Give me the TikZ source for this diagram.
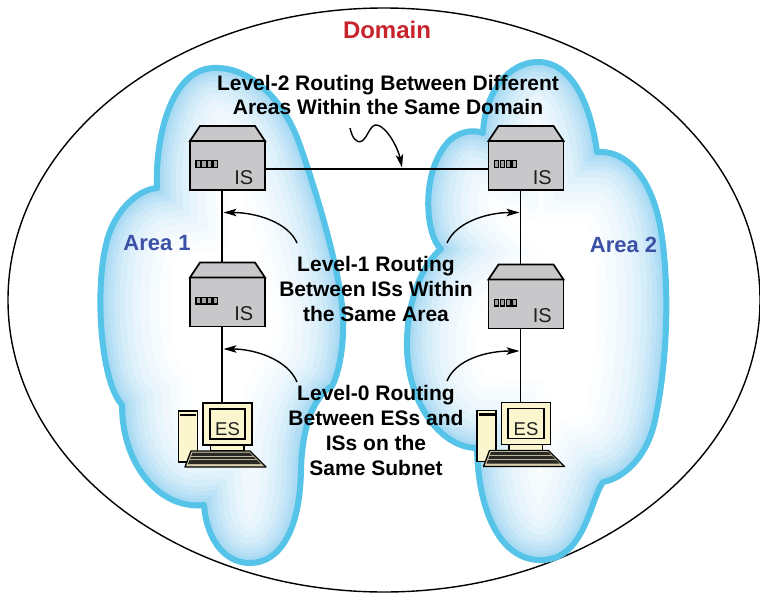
\documentclass[tikz,border=0pt]{standalone}
\usepackage{fontspec}
\setmainfont{Liberation Sans}
\usetikzlibrary{arrows.meta}

\definecolor{isgray}{RGB}{200,200,202}
\definecolor{cream}{RGB}{251,246,206}
\definecolor{kbbeige}{RGB}{214,206,168}
\definecolor{kbdark}{RGB}{40,40,36}
\definecolor{cloudband}{RGB}{86,196,232}
\definecolor{glowc}{RGB}{145,207,239}
\definecolor{domainred}{RGB}{200,35,45}
\definecolor{areablue}{RGB}{60,80,165}

% outlines of the two areas
\newcommand\leftcloud{(157,188) .. controls (155,140) and (170,70) .. (213,68)
  .. controls (250,66) and (283,100) .. (298,140)
  .. controls (309,170) and (342,270) .. (343,320)
  .. controls (344,350) and (338,375) .. (332,386)
  .. controls (312,398) and (302,430) .. (301,470)
  .. controls (300,530) and (280,563) .. (250,563)
  .. controls (222,563) and (206,535) .. (204,505)
  .. controls (160,510) and (122,465) .. (122,405)
  .. controls (100,380) and (95,290) .. (106,245)
  .. controls (112,215) and (135,190) .. (157,188) -- cycle}
\newcommand\rightcloud{(483,133) .. controls (485,90) and (510,62) .. (538,62)
  .. controls (570,62) and (590,100) .. (597,152)
  .. controls (625,150) and (650,175) .. (660,225)
  .. controls (670,280) and (668,360) .. (655,420)
  .. controls (648,455) and (625,478) .. (603,482)
  .. controls (590,500) and (585,558) .. (543,560)
  .. controls (500,562) and (478,510) .. (477,448)
  .. controls (440,448) and (405,400) .. (407,340)
  .. controls (408,295) and (425,262) .. (441,249)
  .. controls (425,235) and (420,170) .. (450,140)
  .. controls (462,130) and (475,130) .. (483,133) -- cycle}

% cloud with a soft blue glow inside its rim
\newcommand\areacloud[1]{%
  \begin{scope}
    \clip #1;
    \fill[white] #1;
    \foreach \w/\p in {140/4,118/8,98/14,80/21,64/29,50/38,38/48,28/58,19/68,12/78,6/87}{
      \draw[line width=\w pt, glowc!\p!white] #1;
    }
  \end{scope}
  \draw[line width=6pt, cloudband, line join=round] #1;
}

% intermediate system: name, x, y
\newcommand\isbox[3]{%
  \begin{scope}[shift={(#2,#3)}]
    \node[isbody] (#1) at (0,0) {};
    \filldraw[isface] (-37.5,-24.5) -- (-27.5,-39.5) -- (27.5,-39.5) -- (37.5,-24.5) -- cycle;
    \foreach \i in {0,...,3}{
      \filldraw[port] ({-31.5+\i*5.8},-4.8) rectangle ++(4.3,6.8);
    }
    \node[islabel, anchor=base east] at (26,18.5) {IS};
    \coordinate (#1-up) at (-5.5,-39.5);
    \coordinate (#1-dn) at (-5.5,24.5);
  \end{scope}}

% end system: name, x, y
\newcommand\esstation[3]{%
  \begin{scope}[shift={(#2,#3)}]
    \filldraw[tower] (-49,-13) rectangle (-30,38);
    \draw[line width=2.2pt] (-47.5,-9) -- (-31.5,-9);
    \filldraw[tower] (-17,21) rectangle (16.5,27);
    \filldraw[draw=black, line width=1.3pt, fill=kbbeige, line join=round]
      (-36.5,27) -- (22.5,27) -- (38.5,43) -- (-42.5,43) -- cycle;
    \fill[kbdark] (-35,28.5) -- (22,28.5) -- (33.5,40) -- (-39.5,40) -- cycle;
    \draw[kbbeige!70!gray, line width=0.8pt] (-37,32) -- (26,32) (-38.2,35.5) -- (29.5,35.5);
    \node[monitor] (#1) at (0,0) {};
    \node[screen] (#1-scr) at (0,0) {};
    \node[eslabel, anchor=base] at (0,11.5) {ES};
    \coordinate (#1-up) at (-5.5,-21);
  \end{scope}}

\begin{document}
\begin{tikzpicture}[x=1pt,y=-1pt,
  link/.style={line width=1.6pt},
  arr/.style={line width=1.4pt, -{Stealth[length=13pt,width=7.5pt,inset=3pt]}},
  isbody/.style={draw, line width=1.7pt, fill=isgray, minimum width=75pt,
    minimum height=49pt, inner sep=0pt, outer sep=0pt},
  isface/.style={draw, line width=1.7pt, fill=isgray, line join=miter},
  port/.style={draw, line width=1.2pt, fill=isgray!80!black},
  islabel/.style={font=\fontsize{20}{20}\selectfont, text=black!88, inner sep=0pt},
  monitor/.style={draw, line width=1.6pt, fill=cream, minimum width=49pt,
    minimum height=42pt, inner sep=0pt, outer sep=0pt},
  screen/.style={draw, line width=1.6pt, fill=cream, minimum width=35.5pt,
    minimum height=30pt, inner sep=0pt},
  eslabel/.style={font=\fontsize{18.5}{18.5}\selectfont, text=black!88, inner sep=0pt},
  tower/.style={draw, line width=1.4pt, fill=cream},
  lbl/.style={font=\fontsize{21}{25}\selectfont\bfseries, align=center, inner sep=0pt},
  arealbl/.style={font=\fontsize{22}{22}\selectfont\bfseries, text=areablue, inner sep=0pt},
]
\useasboundingbox (0,0) rectangle (760,594);
\fill[white] (0,0) rectangle (760,594);

% routing domain
\draw[line width=1.4pt] (384,300) ellipse [x radius=376pt, y radius=292pt];

% the two areas
\areacloud{\leftcloud}
\areacloud{\rightcloud}

% systems
\isbox{isA}{227.5}{165.5}
\isbox{isB}{227.5}{302}
\isbox{isC}{526}{165.5}
\isbox{isD}{526}{304}
\esstation{esA}{227.5}{424}
\esstation{esB}{526}{423.5}

% links
\draw[link] (isA-dn) -- (isB-up);
\draw[link] (isB-dn) -- (esA-up);
\draw[link] (isC-dn) -- (isD-up);
\draw[link] (isD-dn) -- (esB-up);
\draw[link] ([yshift=-3.5pt]isA.east) -- ([yshift=-3.5pt]isC.west);

% labels (base anchor of a multi-line node sits on its last line)
\node[font=\fontsize{24}{24}\selectfont\bfseries, text=domainred, anchor=base, inner sep=0pt]
  (domain) at (387,39) {Domain};
\node[arealbl, anchor=base] (area1) at (157,250) {Area 1};
\node[arealbl, anchor=base] (area2) at (623.5,252) {Area 2};
\node[lbl, font=\fontsize{21}{24}\selectfont\bfseries, anchor=base] (lvl2) at (388,114)
  {Level-2 Routing Between Different\\Areas Within the Same Domain};
\node[lbl, anchor=base] (lvl1) at (376,321.5)
  {Level-1 Routing\\Between ISs Within\\the Same Area};
\node[lbl, anchor=base] (lvl0) at (376,475)
  {Level-0 Routing\\Between ESs and\\ISs on the\\Same Subnet};

% pointers to the links
\coordinate (l2s) at (350,128);
\coordinate (l2t) at (402,167.5);
\coordinate (l1As) at (297,243);
\coordinate (l1At) at (223.5,212.5);
\coordinate (l1Bs) at (447,243);
\coordinate (l1Bt) at (519.5,212.5);
\coordinate (l0As) at (297,382);
\coordinate (l0At) at (223.5,349);
\coordinate (l0Bs) at (447,381);
\coordinate (l0Bt) at (519.5,351);

\draw[arr] (l2s) .. controls (352,137) and (356,144) .. (362,141)
  .. controls (368,137) and (370,124) .. (377,125)
  .. controls (387,127) and (398,148) .. (l2t);
\draw[arr] (l1As) .. controls +(-9,-21) and +(32,0) .. (l1At);
\draw[arr] (l1Bs) .. controls +(9,-21) and +(-32,0) .. (l1Bt);
\draw[arr] (l0As) .. controls +(-9,-22) and +(32,0) .. (l0At);
\draw[arr] (l0Bs) .. controls +(9,-22) and +(-32,0) .. (l0Bt);
\end{tikzpicture}
\end{document}
